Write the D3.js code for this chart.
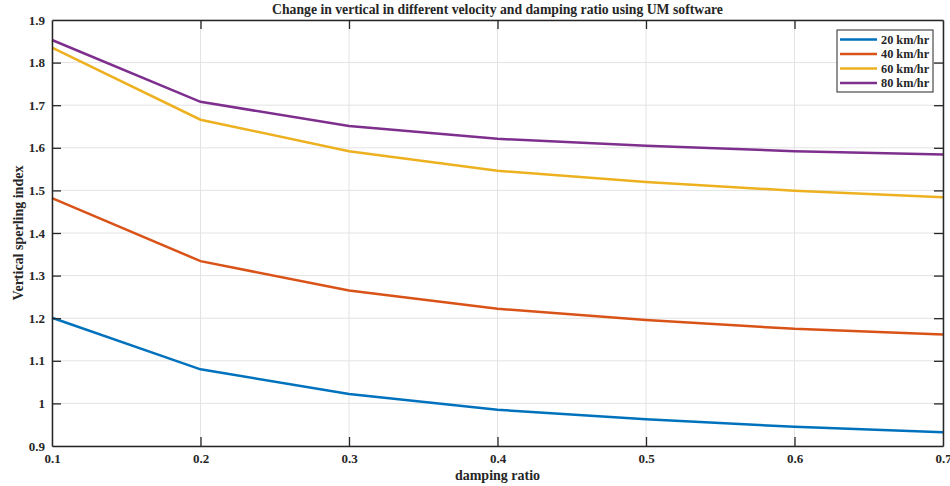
<!DOCTYPE html>
<html>
<head>
<meta charset="utf-8">
<script src="https://d3js.org/d3.v7.min.js"></script>
<style>
  body { margin: 0; background: #fff; }
  svg text { font-family: 'Liberation Serif', 'DejaVu Serif', serif !important; font-weight: bold; fill: #262626; }
</style>
</head>
<body>
<script>
// Data
var dampingRatio = [0.1, 0.2, 0.3, 0.4, 0.5, 0.6, 0.7];
var speeds = ["20 km/hr", "40 km/hr", "60 km/hr", "80 km/hr"];
var v20 = [1.201, 1.080, 1.022, 0.985, 0.963, 0.945, 0.932];
var v40 = [1.482, 1.334, 1.265, 1.222, 1.196, 1.175, 1.162];
var v60 = [1.835, 1.666, 1.592, 1.546, 1.520, 1.499, 1.484];
var v80 = [1.853, 1.708, 1.651, 1.621, 1.605, 1.592, 1.584];
var colors = ["#0072BD", "#D95319", "#EDB120", "#7E2F8E"];
var yTicks = [0.9, 1, 1.1, 1.2, 1.3, 1.4, 1.5, 1.6, 1.7, 1.8, 1.9];

var svgWidth = 950, svgHeight = 486;
var margin = {top: 20, right: 7, bottom: 40, left: 52};
var width = svgWidth - margin.left - margin.right;
var height = svgHeight - margin.top - margin.bottom;
var serif = "'Liberation Serif', 'DejaVu Serif', serif";

var series = [v20, v40, v60, v80].map(function(vals, i) {
    return { key: speeds[i], values: vals.map(function(v, j) { return {x: dampingRatio[j], y: v}; }) };
});

var svg = d3.select("body").append("svg")
    .attr("width", svgWidth)
    .attr("height", svgHeight)
    .attr("font-family", serif);

var g = svg.append("g")
    .attr("transform", "translate(" + margin.left + "," + margin.top + ")");

var x = d3.scaleLinear().domain([0.1, 0.7]).range([0, width]);
var y = d3.scaleLinear().domain([0.9, 1.9]).range([height, 0]);

// grid
g.selectAll(".gx").data(dampingRatio).enter().append("line")
    .attr("x1", function(d) { return x(d); }).attr("x2", function(d) { return x(d); })
    .attr("y1", 0).attr("y2", height)
    .attr("stroke", "#e3e3e3").attr("stroke-width", 1);
g.selectAll(".gy").data(yTicks).enter().append("line")
    .attr("x1", 0).attr("x2", width)
    .attr("y1", function(d) { return y(d); }).attr("y2", function(d) { return y(d); })
    .attr("stroke", "#e3e3e3").attr("stroke-width", 1);

// lines
var line = d3.line()
    .x(function(d) { return x(d.x); })
    .y(function(d) { return y(d.y); });

g.selectAll(".series").data(series).enter().append("path")
    .attr("class", "series")
    .attr("d", function(d) { return line(d.values); })
    .attr("fill", "none")
    .attr("stroke", function(d, i) { return colors[i]; })
    .attr("stroke-width", 2.5);

// axes (inner ticks, box)
var fmt = function(d) { return d3.format("~g")(d); };
var xAxis = g.append("g").attr("transform", "translate(0," + height + ")")
    .call(d3.axisBottom(x).tickValues(dampingRatio).tickSizeInner(-9).tickSizeOuter(0).tickPadding(8).tickFormat(fmt));
var xTop = g.append("g")
    .call(d3.axisTop(x).tickValues(dampingRatio).tickSizeInner(-9).tickSizeOuter(0).tickFormat(""));
var yAxis = g.append("g")
    .call(d3.axisLeft(y).tickValues(yTicks).tickSizeInner(-9).tickSizeOuter(0).tickPadding(7).tickFormat(fmt));
var yRight = g.append("g").attr("transform", "translate(" + width + ",0)")
    .call(d3.axisRight(y).tickValues(yTicks).tickSizeInner(-9).tickSizeOuter(0).tickFormat(""));

[xAxis, xTop, yAxis, yRight].forEach(function(a) {
    a.attr("font-family", serif);
    a.selectAll("path").attr("stroke", "#262626").attr("stroke-width", 1.5);
    a.selectAll("line").attr("stroke", "#262626").attr("stroke-width", 1.3);
    a.selectAll("text").attr("font-family", serif).attr("font-weight", "bold")
        .attr("font-size", 13).attr("fill", "#262626");
});
xTop.selectAll(".tick").filter(function(d) { return d === 0.1 || d === 0.7; }).remove();
xAxis.selectAll(".tick line").filter(function(d) { return d === 0.1 || d === 0.7; }).remove();
yAxis.selectAll(".tick line").filter(function(d) { return d === 0.9 || d === 1.9; }).remove();
yRight.selectAll(".tick").filter(function(d) { return d === 0.9 || d === 1.9; }).remove();

// title and labels
svg.append("text")
    .attr("x", margin.left + width / 2).attr("y", 14)
    .attr("text-anchor", "middle").attr("font-size", 13.7)
    .text("Change in vertical in different velocity and damping ratio using UM software");

svg.append("text")
    .attr("x", margin.left + width / 2).attr("y", 480)
    .attr("text-anchor", "middle").attr("font-size", 14)
    .text("damping ratio");

svg.append("text")
    .attr("transform", "translate(23," + (margin.top + height / 2) + ") rotate(-90)")
    .attr("text-anchor", "middle").attr("font-size", 14)
    .text("Vertical sperling index");

// legend
var legend = svg.append("g").attr("transform", "translate(837,30)");
legend.append("rect")
    .attr("width", 96).attr("height", 62)
    .attr("fill", "#fff").attr("stroke", "#262626").attr("stroke-width", 1);
var items = legend.selectAll(".legend").data(speeds).enter().append("g")
    .attr("class", "legend")
    .attr("transform", function(d, i) { return "translate(0," + (9.5 + 14.5 * i) + ")"; });
items.append("line")
    .attr("x1", 3).attr("x2", 40).attr("y1", 0).attr("y2", 0)
    .attr("stroke", function(d, i) { return colors[i]; }).attr("stroke-width", 2.5);
items.append("text")
    .attr("x", 44).attr("dy", "0.35em").attr("font-size", 12.3)
    .text(function(d) { return d; });
</script>
</body>
</html>
